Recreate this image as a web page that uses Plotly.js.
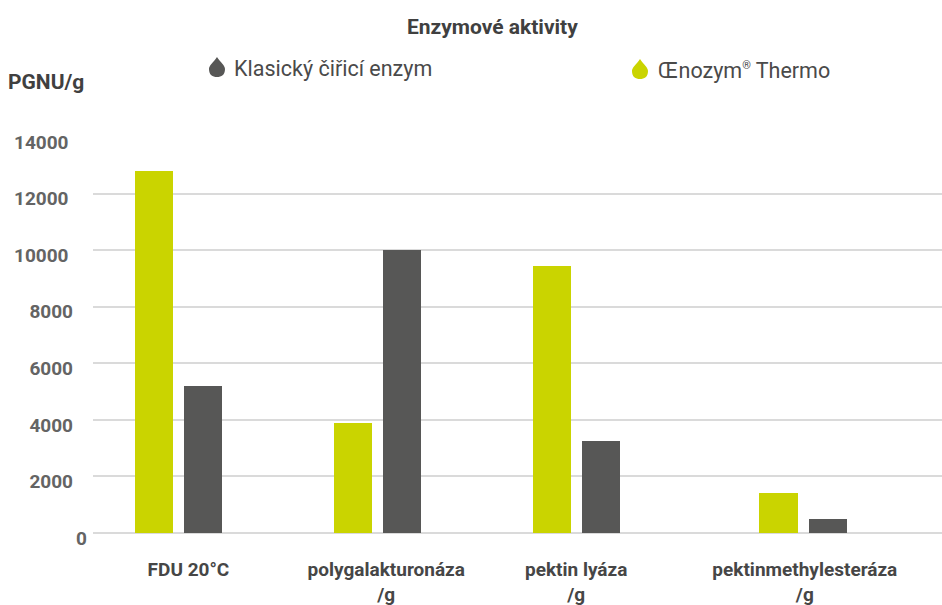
<!DOCTYPE html>
<html><head><meta charset="utf-8">
<script src="https://cdn.plot.ly/plotly-3.0.1.min.js"></script>
<style>html,body{margin:0;padding:0;background:#fff;overflow:hidden}</style></head>
<body><div id="chart" style="width:942px;height:605px"></div>
<script>
const categories = ['FDU 20°C','polygalakturonáza<br>/g','pektin lyáza<br>/g','pektinmethylesteráza<br>/g'];
const barPositions = [0, 1, 2, 3.14];
const labelPositions = [0.05, 1.045, 2, 3.15];
const thermo = [12800, 3900, 9430, 1400];
const classic = [5200, 10000, 3270, 480];
const axisTicks = [2000,4000,6000,8000];
const wideTicks = [10000,12000,14000];
const names = ['Klasický čiřicí enzym','Œnozym<sup><span style="font-size:11px">®</span></sup> Thermo'];
const GREEN='#cad400', GREY='#575756', TICK='#646464', DARK='#464646';
const L=93,T=137,PW=849,PH=396;
const X=v=>((v-L)/PW).toFixed(5), Y=v=>((T+PH-v)/PH).toFixed(5);
const dropPath=(cx,top,w,h)=>{const r=w/2,b=top+h,mid=b-r;
 return `M${X(cx)},${Y(top)} C${X(cx+r*0.45)},${Y(top+h*0.28)} ${X(cx+r)},${Y(top+h*0.42)} ${X(cx+r)},${Y(mid)} C${X(cx+r)},${Y(mid+r*0.75)} ${X(cx+r*0.55)},${Y(b)} ${X(cx)},${Y(b)} C${X(cx-r*0.55)},${Y(b)} ${X(cx-r)},${Y(mid+r*0.75)} ${X(cx-r)},${Y(mid)} C${X(cx-r)},${Y(top+h*0.42)} ${X(cx-r*0.45)},${Y(top+h*0.28)} ${X(cx)},${Y(top)} Z`;};
const traces=[
 {type:'bar',name:'Œnozym® Thermo',x:barPositions,y:thermo,marker:{color:GREEN},offset:-0.218,width:0.192,showlegend:false},
 {type:'bar',name:'Klasický čiřicí enzym',x:barPositions,y:classic,marker:{color:GREY},offset:0.029,width:0.192,showlegend:false}
];
const ann=(text,x,y,size,bold,color)=>({text:bold?`<b>${text}</b>`:text,xref:'paper',yref:'paper',x:+X(x),y:+Y(y),showarrow:false,xanchor:'left',yanchor:'middle',xshift:-1,font:{family:'Roboto',size:size,color:color},borderpad:0});
const tickAnn=(v,right)=>({text:`<b>${v}</b>`,xref:'paper',yref:'y',x:+X(right),y:v,yshift:-5,showarrow:false,xanchor:'right',yanchor:'middle',font:{family:'Roboto',size:19,color:TICK},borderpad:0});
const layout={
 width:942,height:605,margin:{l:L,r:0,t:T,b:72},paper_bgcolor:'#fff',plot_bgcolor:'#fff',
 font:{family:'Roboto',color:DARK},showlegend:false,bargap:0,
 xaxis:{type:'linear',range:[-0.43,3.84],tickmode:'array',tickvals:labelPositions,ticktext:categories.map(c=>'<b>'+c.replace('<br>','</b><br><b>')+'</b>'),showgrid:false,zeroline:false,showline:false,ticks:'',tickangle:0,tickfont:{family:'Roboto',size:19,color:DARK},ticklabelstandoff:23,automargin:false},
 yaxis:{range:[0,14000],tickmode:'array',tickvals:axisTicks,ticktext:axisTicks.map(v=>`<b>${v}</b>`),showgrid:true,gridcolor:'#dadada',gridwidth:2,
  minor:{tickmode:'array',tickvals:wideTicks,showgrid:true,gridcolor:'#dadada',gridwidth:2,ticks:''},
  zeroline:true,zerolinecolor:'#dadada',zerolinewidth:2,showline:false,ticks:'',tickfont:{family:'Roboto',size:19,color:TICK},ticklabelstandoff:19,ticklabelshift:5,automargin:false},
 annotations:[
  ann('Enzymové aktivity',407,27,21,true,'#404040'),
  ann('PGNU/g',8,82,21,true,'#404040'),
  ann(names[0],234,69,21.5,false,'#4a4a4a'),
  ann(names[1],658,71,21.5,false,'#4a4a4a'),
  ...wideTicks.map(v=>tickAnn(v,70)),
  tickAnn(0,88)
 ],
 shapes:[
  {type:'path',xref:'paper',yref:'paper',path:dropPath(217,57,16,20),fillcolor:GREY,line:{width:0}},
  {type:'path',xref:'paper',yref:'paper',path:dropPath(640,59,16,20),fillcolor:GREEN,line:{width:0}}
 ]
};
Plotly.newPlot('chart',traces,layout,{displayModeBar:false,staticPlot:true});
</script></body></html>
